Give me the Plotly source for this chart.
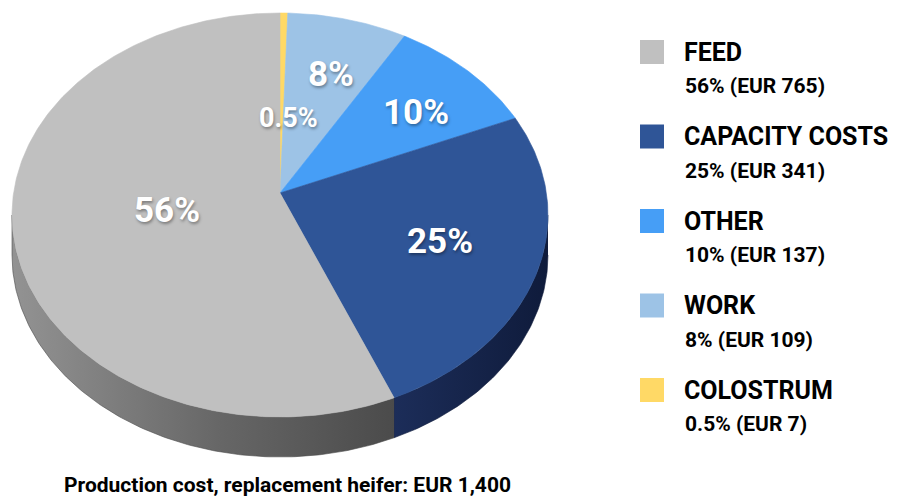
import numpy as np
import plotly.graph_objects as go

# ---------------- data ----------------
categories = ["FEED", "CAPACITY COSTS", "OTHER", "WORK", "COLOSTRUM"]
pct_labels = ["56%", "25%", "10%", "8%", "0.5%"]
eur_values = [765, 341, 137, 109, 7]
total_label = "Production cost, replacement heifer: EUR 1,400"

# ---------------- styles ----------------
top_colors = ["#c0c0c0", "#2f5597", "#469ef6", "#9dc3e6", "#ffd966"]
side_scales = {
    0: [[0, "#939393"], [0.55, "#666666"], [1, "#4b4b4b"]],
    1: [[0, "#1c2d59"], [1, "#0f1b3b"]],
    2: [[0, "#2c6fb6"], [1, "#2c6fb6"]],
    3: [[0, "#6f8fb0"], [1, "#6f8fb0"]],
    4: [[0, "#c9a844"], [1, "#c9a844"]],
}
FONT = "Roboto, Liberation Sans, Arial, sans-serif"

W, H = 901, 502
VX, VY = 280, 193        # projected centre of the pie (apex of slices)
A_, B_ = 266.4, 199.6    # perspective scale factors
K = 0.1089               # perspective strength
DEPTH = 40               # side wall thickness

label_r = [0.43, 0.63, 0.68, 0.66, 0.392]
label_dx = [0, 0, 6, 5, 7]
label_dy = [0, 0, 5, 0, 0]
label_size = [35, 35, 35, 35, 27]

# slice order clockwise from 12 o'clock: COLOSTRUM, WORK, OTHER, CAPACITY, FEED
draw_order = [4, 3, 2, 1, 0]
vals = np.array(eur_values, dtype=float)
fracs = vals / vals.sum()

starts, ends = {}, {}
acc = 0.0
for i in draw_order:
    starts[i] = acc
    acc += fracs[i]
    ends[i] = acc


def proj(theta, r=1.0):
    u = r * np.sin(theta)
    v = r * np.cos(theta)
    d = 1 + K * v
    return VX + A_ * u / d, VY - B_ * v / d


def arc(a0, a1):
    n = max(4, int(abs(a1 - a0) * 500))
    t = np.linspace(a0, a1, n) * 2 * np.pi
    return proj(t)


fig = go.Figure()

# ---- side walls (visible between the silhouette extremes) ----
lo = np.arccos(-K) / (2 * np.pi)
hi = 1 - lo
for i in draw_order:
    a0 = max(starts[i], lo)
    a1 = min(ends[i], hi)
    if a1 <= a0:
        continue
    xs, ys = arc(a0, a1)
    px = np.concatenate([xs, xs[::-1]])
    py = np.concatenate([ys, ys[::-1] + DEPTH])
    fig.add_trace(go.Scatter(
        x=px, y=py, mode="lines", fill="toself",
        line=dict(width=0.6, color=side_scales[i][-1][1]),
        fillgradient=dict(type="horizontal", colorscale=side_scales[i]),
        hoverinfo="skip", showlegend=False))

# ---- top faces ----
for i in draw_order:
    xs, ys = arc(starts[i], ends[i])
    px = np.concatenate([[VX], xs, [VX]])
    py = np.concatenate([[VY], ys, [VY]])
    fig.add_trace(go.Scatter(
        x=px, y=py, mode="lines", fill="toself",
        line=dict(width=0.6, color=top_colors[i]),
        fillcolor=top_colors[i],
        hoverinfo="skip", showlegend=False, name=categories[i]))

# ---- slice labels ----
for i in draw_order:
    mid = (starts[i] + ends[i]) / 2 * 2 * np.pi
    lx, ly = proj(mid, label_r[i])
    fig.add_annotation(
        x=lx + label_dx[i], y=ly + label_dy[i], text=pct_labels[i], showarrow=False,
        xanchor="center", yanchor="middle",
        font=dict(family=FONT, size=label_size[i], color="white", weight="bold",
                  shadow="1px 2px 3px rgba(0,0,0,0.35)"))

# ---- legend ----
LEG_X, LEG_Y0, LEG_DY = 652, 52, 84.5
leg_y = [LEG_Y0 + k * LEG_DY for k in range(len(categories))]
fig.add_trace(go.Scatter(
    x=[LEG_X] * len(categories), y=leg_y, mode="markers",
    marker=dict(symbol="square", size=24, color=top_colors, line=dict(width=0)),
    hoverinfo="skip", showlegend=False))
for k, name in enumerate(categories):
    fig.add_annotation(x=682, y=leg_y[k], text=name, showarrow=False,
                       xanchor="left", yanchor="middle",
                       font=dict(family=FONT, size=25, color="black", weight="bold"))
    fig.add_annotation(x=683, y=leg_y[k] + 34,
                       text=f"{pct_labels[k]} (EUR {eur_values[k]})", showarrow=False,
                       xanchor="left", yanchor="middle",
                       font=dict(family=FONT, size=21, color="black", weight="bold"))

# ---- caption ----
fig.add_annotation(x=287, y=485, text=total_label, showarrow=False,
                   xanchor="center", yanchor="middle",
                   font=dict(family=FONT, size=21, color="black", weight="bold"))

fig.update_layout(
    width=W, height=H, margin=dict(l=0, r=0, t=0, b=0),
    paper_bgcolor="white", plot_bgcolor="white", hovermode=False,
    xaxis=dict(range=[0, W], visible=False, fixedrange=True),
    yaxis=dict(range=[H, 0], visible=False, fixedrange=True),
)
fig.write_html("out.html")
